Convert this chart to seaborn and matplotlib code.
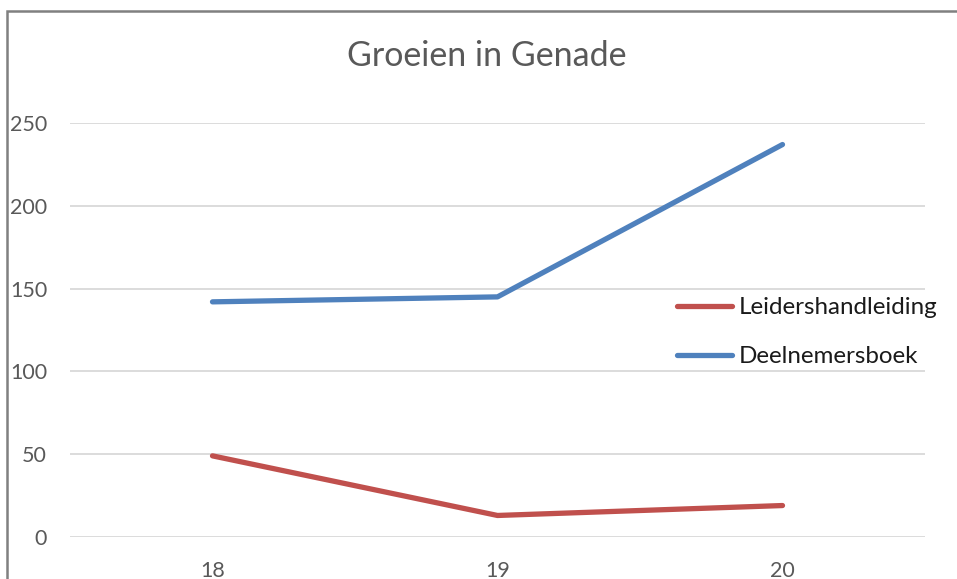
import pandas as pd
import matplotlib.pyplot as plt
import seaborn as sns
from matplotlib.patches import Rectangle

# Gegevens uit de grafiek
jaren = ['18', '19', '20']
leidershandleiding = [49, 13, 19]
deelnemersboek = [142, 145, 237]
reeksen = ['Leidershandleiding', 'Deelnemersboek']
kleuren = {'Leidershandleiding': '#C0504D', 'Deelnemersboek': '#4F81BD'}

df = pd.DataFrame({
    'jaar': jaren * 2,
    'waarde': leidershandleiding + deelnemersboek,
    'reeks': [reeksen[0]] * 3 + [reeksen[1]] * 3,
})

sns.set_style('white')
plt.rcParams['font.family'] = ['Lato', 'DejaVu Sans']

fig = plt.figure(figsize=(9.57, 5.79), dpi=100)
ax = fig.add_axes([70 / 957, 42 / 579, 855 / 957, 414 / 579])

sns.lineplot(data=df, x='jaar', y='waarde', hue='reeks', palette=kleuren,
             linewidth=3.8, ax=ax, sort=False, solid_capstyle='round')

ax.set_xlim(-0.5, 2.5)
ax.set_ylim(0, 250)
ax.set_yticks(range(0, 251, 50))
ax.yaxis.grid(True, color='#D9D9D9', linewidth=1.3)
ax.set_axisbelow(True)
for s in ax.spines.values():
    s.set_visible(False)
ax.tick_params(axis='both', length=0, labelsize=15.5, labelcolor='#595959')
ax.tick_params(axis='y', pad=16.5)
ax.tick_params(axis='x', pad=17)
ax.set_xlabel('')
ax.set_ylabel('')

# legenda rechts in het plotvlak
leg = ax.legend(loc='center left', bbox_to_anchor=(0.685, 0.495), frameon=False,
                fontsize=17.4, handlelength=2.27, handletextpad=0.25, labelspacing=1.15)
for t in leg.get_texts():
    t.set_color('#1a1a1a')

fig.text(487 / 957, 1 - 56 / 579, 'Groeien in Genade', ha='center', va='center',
         fontsize=24.5, color='#595959')

# Kader rond de grafiek
fig.patches.append(Rectangle((7 / 957, -0.1), 1.2, 1 - 11 / 579 + 0.1,
                             transform=fig.transFigure, fill=False,
                             edgecolor='#808080', linewidth=1.8))

fig.savefig('out.png', dpi=100)
